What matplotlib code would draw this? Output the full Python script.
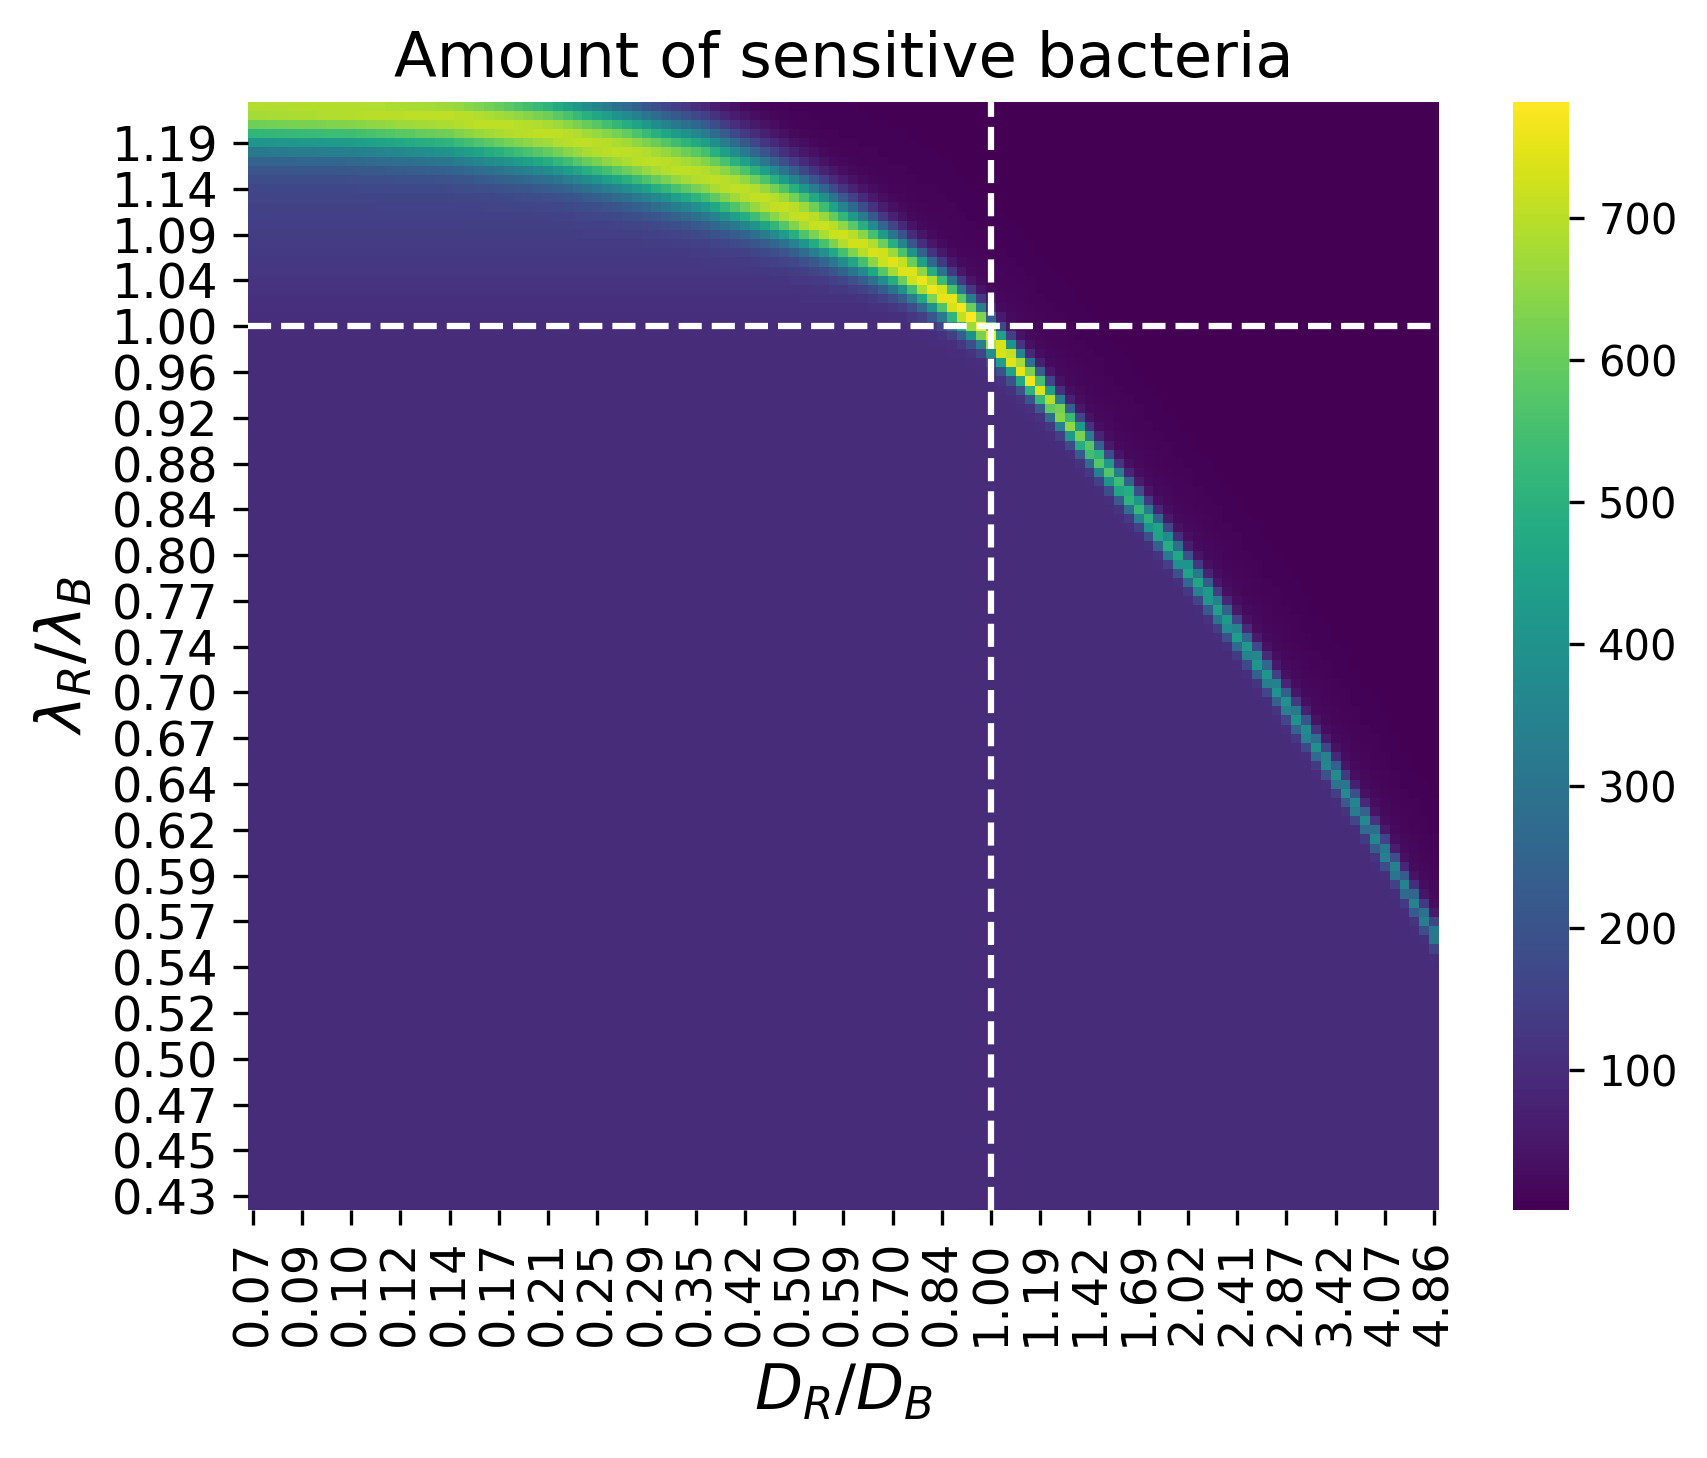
import numpy as np
import matplotlib
matplotlib.use("Agg")
import matplotlib.pyplot as plt
import seaborn as sns

# ---------------- data ----------------
x_labels = ['0.07', '0.09', '0.10', '0.12', '0.14', '0.17', '0.21', '0.25', '0.29',
            '0.35', '0.42', '0.50', '0.59', '0.70', '0.84', '1.00', '1.19', '1.42',
            '1.69', '2.02', '2.41', '2.87', '3.42', '4.07', '4.86']
# top to bottom
y_labels = ['1.19', '1.14', '1.09', '1.04', '1.00', '0.96', '0.92', '0.88', '0.84',
            '0.80', '0.77', '0.74', '0.70', '0.67', '0.64', '0.62', '0.59', '0.57',
            '0.54', '0.52', '0.50', '0.47', '0.45', '0.43']
n_cols = 121
n_rows = 121

# ridge (bright band) position: row index counted from the top, at several columns
ridge_cols = [0, 10, 20, 30, 38, 46, 50, 54, 58, 62, 66, 70, 72, 74, 76, 78, 80,
              87, 92, 97, 102, 107, 112, 115, 120]
ridge_rows = [0.3, 0.5, 1.2, 3.0, 5.2, 7.7, 9.4, 11.2, 13.2, 15.3, 17.7, 20.6, 22.3,
              24.0, 26.5, 28.7, 31.0, 40.0, 46.5, 53.5, 60.7, 68.4, 76.4, 81.6, 90.5]

# ridge peak value along the band
peak_cols = [0, 10, 20, 30, 46, 55, 62, 68, 72, 76, 79, 81, 84, 88, 92, 97, 102,
             107, 112, 116, 120]
peak_vals = [690, 700, 705, 705, 705, 715, 730, 760, 782, 782, 770, 710, 630, 550,
             495, 455, 425, 395, 375, 355, 345]

# band half-widths (rows) below / above the ridge
sigma_cols = [0, 30, 46, 62, 70, 75, 80, 120]
sigma_low = [2.9, 2.9, 2.75, 2.0, 1.6, 1.3, 1.1, 0.9]
sigma_up = [3.5, 3.6, 3.7, 2.5, 1.8, 1.4, 1.25, 1.1]

bg_dark = 1.5          # region above / right of the band
bg_low = 98.0          # region below the band (lambda ratio < 1)
bg_low_gain = 4.2      # increase per row above the lambda ratio = 1 row
row_one = 24           # row (from top) of lambda ratio 1.00
col_one = 75           # column of D ratio 1.00
tail_amp = 50.0
tail_len = 5.0
v_min, v_max = 1, 782

# ---------------- build the matrix ----------------
cols = np.arange(n_cols)
rows = np.arange(n_rows)
ridge = np.interp(cols, ridge_cols, ridge_rows)
peak = np.interp(cols, peak_cols, peak_vals)
s_lo = np.interp(cols, sigma_cols, sigma_low)
s_up = np.interp(cols, sigma_cols, sigma_up)

T, C = np.meshgrid(rows, cols, indexing='ij')
d = T - ridge[C]
base_low = bg_low + bg_low_gain * np.clip(row_one - T, 0, None)
g_lo = np.exp(-d ** 2 / (2 * s_lo[C] ** 2))
g_up = np.exp(-d ** 2 / (2 * s_up[C] ** 2))
below = base_low + (peak[C] - base_low) * g_lo
above = bg_dark + (peak[C] - bg_dark) * g_up + tail_amp * np.exp(np.minimum(d, 0) / tail_len) * (1 - g_up)
M = np.where(d >= 0, below, above)
M = np.clip(M, v_min, v_max)

# ---------------- plot ----------------
W, H, DPI = 1707, 1458, 300
fig = plt.figure(figsize=(W / DPI, H / DPI), dpi=DPI)
ax = fig.add_axes([247.7 / W, 1 - 1210 / H, (1439 - 247.7) / W, (1210 - 101.7) / H])
cax = fig.add_axes([1513 / W, 1 - 1210 / H, 56 / W, (1210 - 101.7) / H])

sns.heatmap(M, cmap='viridis', vmin=v_min, vmax=v_max, ax=ax, cbar_ax=cax,
            xticklabels=False, yticklabels=False)

ax.set_xticks(np.arange(0, n_cols, 5) + 0.5)
ax.set_xticklabels(x_labels, rotation=90, fontsize=11.5)
ax.set_yticks(np.arange(4, n_rows, 5) + 0.5)
ax.set_yticklabels(y_labels, rotation=0, fontsize=11.5)
ax.tick_params(length=3.5, width=0.8)

ax.axvline(col_one + 0.5, color='white', linestyle='--', linewidth=1.5)
ax.axhline(row_one + 0.5, color='white', linestyle='--', linewidth=1.5)

ax.set_title('Amount of sensitive bacteria', fontsize=15)
ax.set_xlabel(r'$D_R/D_B$', fontsize=15)
ax.set_ylabel(r'$\lambda_R/\lambda_B$', fontsize=15)

cax.tick_params(labelsize=10, length=3.5, width=0.8)

fig.savefig('out.png', dpi=DPI)
